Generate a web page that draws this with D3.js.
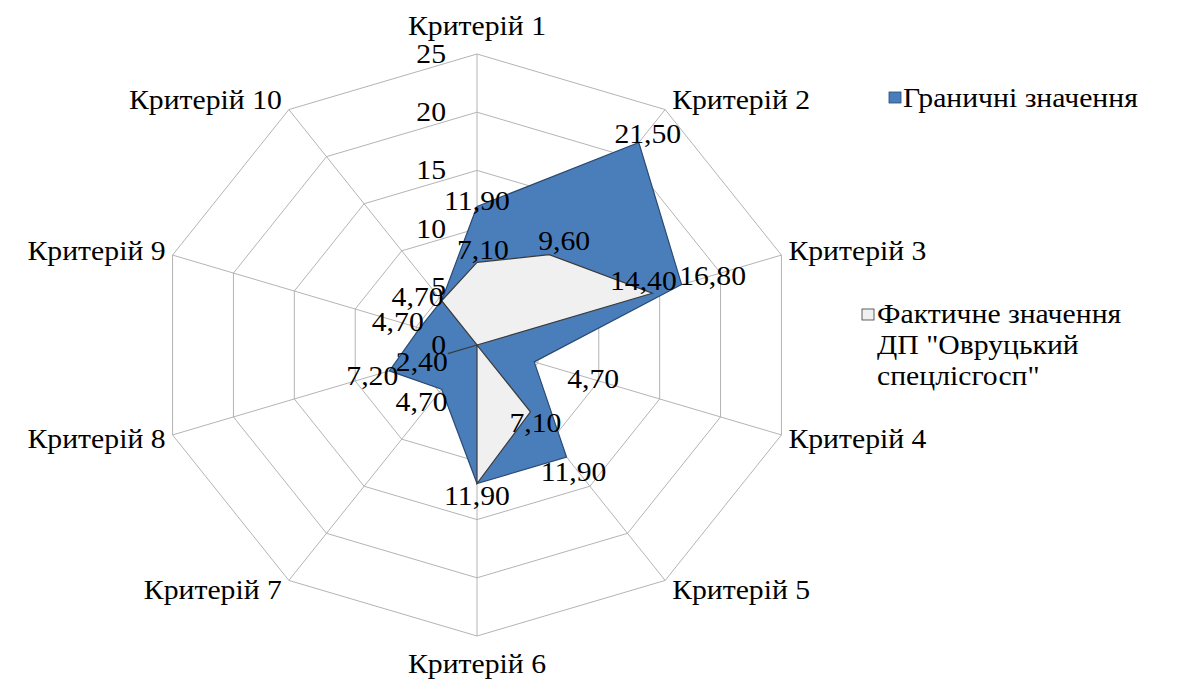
<!DOCTYPE html>
<html>
<head>
<meta charset="utf-8">
<script src="https://cdn.jsdelivr.net/npm/d3@7"></script>
</head>
<body style="margin:0">
<svg id="s" width="1178" height="679" font-family="Liberation Serif"></svg>
<script>
let categories = ['Критерій 1', 'Критерій 2', 'Критерій 3', 'Критерій 4', 'Критерій 5',
  'Критерій 6', 'Критерій 7', 'Критерій 8', 'Критерій 9', 'Критерій 10']
let limitValues = [11.9, 21.5, 16.8, 4.7, 11.9, 11.9, 4.7, 7.2, 4.7, 4.7]
let actualValues = [7.1, 9.6, 14.4, 0, 7.1, 11.9, 0, 2.4, 0, 4.7]
let tickValues = [0, 5, 10, 15, 20, 25]
let seriesNames = ['Граничні значення', 'Фактичне значення ДП "Овруцький спецлісгосп"']

// which labels are shown (zeros and duplicates hidden, like in the original)
let showLimit = [1, 1, 1, 1, 1, 1, 1, 1, 1, 1]
let showActual = [1, 1, 1, 0, 1, 0, 0, 1, 0, 0]

// label nudges from the point, px
let limitNudge = [[0, -5], [9, -9], [31, -9], [59, 17], [7, 15], [0, 12], [-20, 13], [-17, 5], [-22, -6], [-24, -4]]
let actualNudge = [[6, -12], [15, -14], [-9, -12], [0, 0], [5, 11], [0, 0], [0, 0], [-26, 8], [0, 0], [0, 0]]

// the original picture is a bit wider than tall
let stretch = 1.1
let cx = 477, cy = 345, R = 291
let fontSize = 27

let svg = d3.select('#s')

let r = d3.scaleLinear().domain([0, 25]).range([0, R])
let angle = (i) => i * 2 * Math.PI / categories.length

let pt = (i, v) => [cx + stretch * r(v) * Math.sin(angle(i)), cy - r(v) * Math.cos(angle(i))]

let addText = (x, y, txt, anchor, dy) => {
  let t = svg.append('text')
    .attr('x', x).attr('y', y + dy)
    .attr('text-anchor', anchor)
    .attr('font-family', 'Liberation Serif')
    .style('font-family', 'Liberation Serif')
    .style('font-size', fontSize + 'px')
    .text(txt)
  let len = t.node().getComputedTextLength()
  t.attr('textLength', len * stretch).attr('lengthAdjust', 'spacingAndGlyphs')
  return t
}

// grid
let ring = d3.line()
tickValues.filter(t => t > 0).forEach(t => {
  let pts = categories.map((c, i) => pt(i, t))
  pts.push(pts[0])
  svg.append('path')
    .attr('d', ring(pts))
    .attr('fill', 'none')
    .attr('stroke', '#b4b4b4')
    .attr('stroke-width', 1)
})
categories.forEach((c, i) => {
  let p = pt(i, 25)
  svg.append('line')
    .attr('x1', cx).attr('y1', cy)
    .attr('x2', p[0]).attr('y2', p[1])
    .attr('stroke', '#b4b4b4')
    .attr('stroke-width', 1)
})

// series
let drawSeries = (values, fill, stroke) => {
  let pts = values.map((v, i) => pt(i, v))
  pts.push(pts[0])
  svg.append('path')
    .attr('d', ring(pts))
    .attr('fill', fill)
    .attr('stroke', stroke)
    .attr('stroke-width', 1.2)
}
drawSeries(limitValues, '#4a7ebb', '#2a4a72')
drawSeries(actualValues, '#f0f0f0', '#3a3a3a')

// tick labels
tickValues.forEach(t => {
  addText(cx - 31, cy - r(t), String(t), 'end', 9)
})

// category labels
categories.forEach((c, i) => {
  let p = pt(i, 25)
  let sx = Math.sin(angle(i)), sy = -Math.cos(angle(i))
  let mid = Math.abs(sx) < 0.01
  let anchor = mid ? 'middle' : (sx > 0 ? 'start' : 'end')
  let x = p[0] + (mid ? 0 : Math.sign(sx) * 7)
  let y = p[1] + (mid ? sy * 28 : sy * 12)
  addText(x, y, c, anchor, 9)
})

// data labels
let fmt = (v) => v.toFixed(2).replace('.', ',')
let drawLabels = (values, show, nudge) => {
  values.forEach((v, i) => {
    if (!show[i]) return
    let p = pt(i, v)
    addText(p[0] + nudge[i][0], p[1] + nudge[i][1], fmt(v), 'middle', 9)
  })
}
drawLabels(limitValues, showLimit, limitNudge)
drawLabels(actualValues, showActual, actualNudge)

// legend
svg.append('rect')
  .attr('x', 889).attr('y', 92)
  .attr('width', 12).attr('height', 11)
  .attr('fill', '#4a7ebb').attr('stroke', '#2a4a72').attr('stroke-width', 0.8)
addText(903, 98, seriesNames[0], 'start', 9)

svg.append('rect')
  .attr('x', 862).attr('y', 309)
  .attr('width', 12).attr('height', 11)
  .attr('fill', '#f0f0f0').attr('stroke', '#3a3a3a').attr('stroke-width', 0.8)
let lines = ['Фактичне значення', 'ДП "Овруцький', 'спецлісгосп"']
lines.forEach((t, k) => {
  addText(877, 314 + k * 31, t, 'start', 9)
})
</script>
</body>
</html>
